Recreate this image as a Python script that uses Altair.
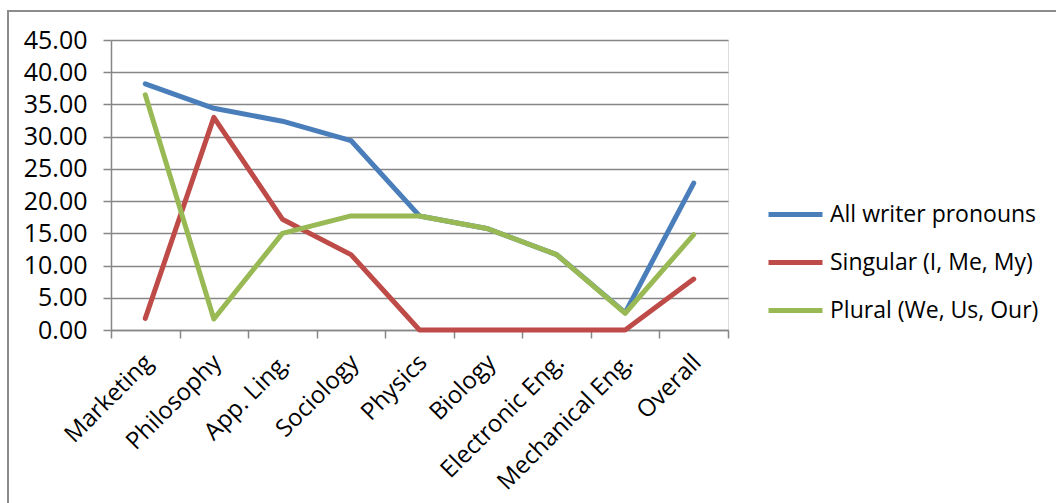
import altair as alt
import pandas as pd

categories = ["Marketing", "Philosophy", "App. Ling.", "Sociology", "Physics",
              "Biology", "Electronic Eng.", "Mechanical Eng.", "Overall"]
series_names = ["All writer pronouns", "Singular (I, Me, My)", "Plural (We, Us, Our)"]
all_writer = [38.2, 34.4, 32.4, 29.4, 17.7, 15.7, 11.7, 2.7, 22.8]
singular = [1.8, 33.0, 17.2, 11.7, 0.0, 0.0, 0.0, 0.0, 7.9]
plural = [36.5, 1.7, 15.0, 17.7, 17.7, 15.7, 11.7, 2.6, 14.8]
colors = ["#4A7EBB", "#BE4B48", "#98B954"]
y_ticks = [0, 5, 10, 15, 20, 25, 30, 35, 40, 45]

rows = []
for name, vals in zip(series_names, [all_writer, singular, plural]):
    for i, (c, v) in enumerate(zip(categories, vals)):
        rows.append({"category": c, "series": name, "value": v, "order": i})
df = pd.DataFrame(rows)

FONT = "Open Sans"
GRID = "#868686"

lines = alt.Chart(df).mark_line(strokeWidth=5, strokeCap="round", strokeJoin="round").encode(
    x=alt.X("category:N", sort=categories, bandPosition=0.5,
            scale=alt.Scale(type="band", paddingInner=0, paddingOuter=0),
            axis=alt.Axis(title=None, labelAngle=-45, labelAlign="right", labelBaseline="top",
                          labelOffset=-5, tickBand="extent", grid=False,
                          domainColor=GRID, domainWidth=1.5, tickColor=GRID, tickWidth=1.5,
                          tickSize=8, labelFont=FONT, labelFontSize=24, labelColor="black",
                          labelPadding=12, labelLimit=0)),
    y=alt.Y("value:Q", scale=alt.Scale(domain=[0, 45], nice=False),
            axis=alt.Axis(title=None, values=y_ticks, format=".2f", grid=True,
                          gridColor=GRID, gridWidth=1.5, domainColor=GRID, domainWidth=1.5,
                          tickColor=GRID, tickWidth=1.5, tickSize=8, labelFont=FONT,
                          labelFontSize=25, labelColor="black", labelPadding=16)),
    color=alt.Color("series:N", scale=alt.Scale(domain=series_names, range=colors),
                    legend=alt.Legend(title=None, orient="none", legendX=655, legendY=145,
                                      symbolType="stroke", symbolSize=2916, symbolStrokeWidth=5,
                                      labelFont=FONT, labelFontSize=23, labelColor="black",
                                      labelOffset=5, rowPadding=6, padding=0, labelLimit=0)),
    order="order:Q",
)

border = alt.Chart(pd.DataFrame({"k": [0]})).mark_rect(
    fill=None, stroke="#8c8c8c", strokeWidth=2, clip=False
).encode(
    x=alt.value(-103), y=alt.value(-29), x2=alt.value(960), y2=alt.value(480)
)

chart = alt.layer(border, lines).properties(
    width=617, height=290,
    autosize=alt.AutoSizeParams(type="none"),
    padding={"left": 111, "top": 40, "right": 328, "bottom": 173},
).configure_view(stroke=None).configure(background="white")

chart.save("out.html", embed_options={"renderer": "svg", "actions": False})
